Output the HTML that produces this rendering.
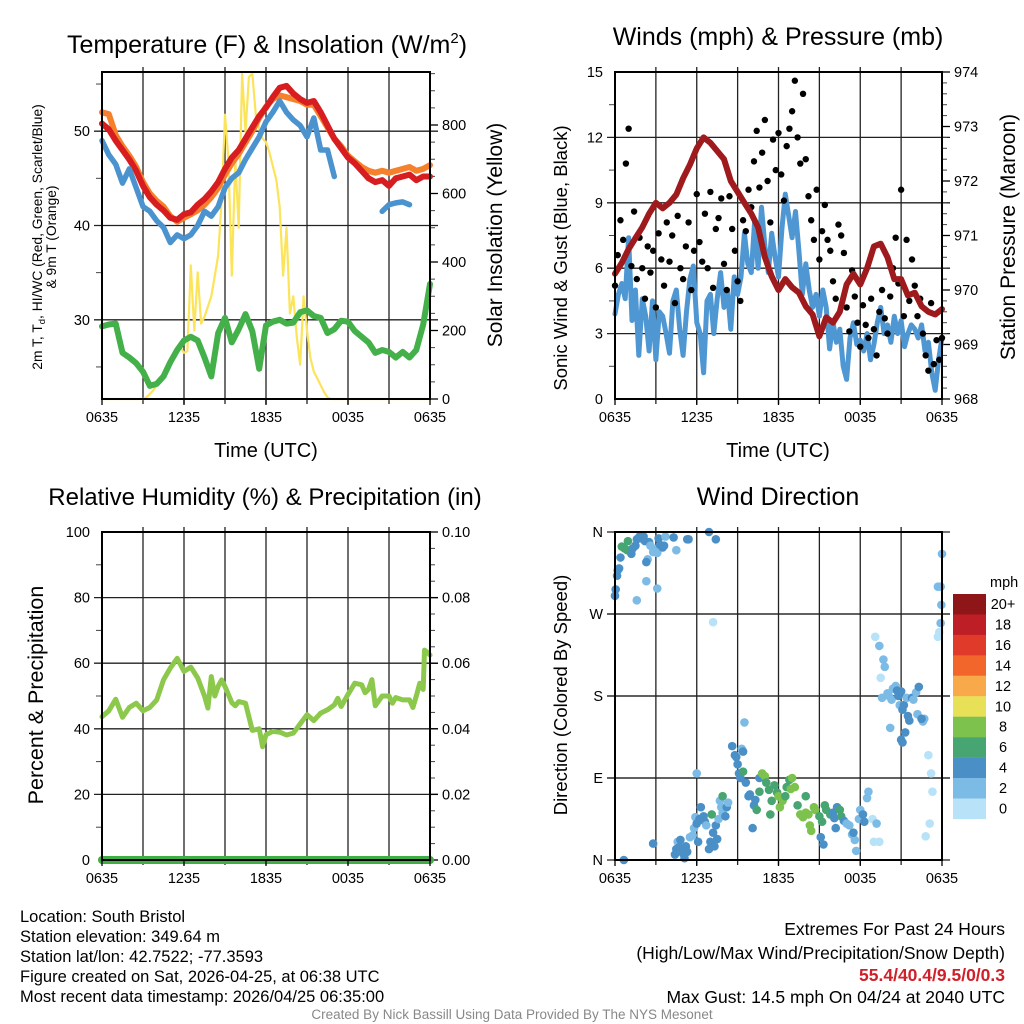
<!DOCTYPE html>
<html><head><meta charset="utf-8">
<style>
html,body{margin:0;padding:0;background:#fff;}
svg{display:block;font-family:"Liberation Sans",Arial,sans-serif;}
</style></head>
<body>
<svg id="chart" width="1024" height="1024" viewBox="0 0 1024 1024" xmlns="http://www.w3.org/2000/svg">
<rect x="0" y="0" width="1024" height="1024" fill="#fff"/>
<text x="267" y="53" font-size="25" text-anchor="middle">Temperature (F) &amp; Insolation (W/m<tspan font-size="15" dy="-10">2</tspan><tspan dy="10">)</tspan></text>
<text x="778" y="45" font-size="25" text-anchor="middle">Winds (mph) &amp; Pressure (mb)</text>
<text x="265" y="505" font-size="24" text-anchor="middle">Relative Humidity (%) &amp; Precipitation (in)</text>
<text x="778" y="505" font-size="25" text-anchor="middle">Wind Direction</text>

<text font-size="13.8" text-anchor="middle" transform="translate(42,237) rotate(-90)">2m T, T<tspan font-size="9.5" dy="3">d</tspan><tspan dy="-3">, HI/WC (Red, Green, Scarlet/Blue)</tspan></text>
<text font-size="13.8" text-anchor="middle" transform="translate(56,237) rotate(-90)">&amp; 9m T (Orange)</text>
<text font-size="21" text-anchor="middle" transform="translate(502,235) rotate(-90)">Solar Insolation (Yellow)</text>
<text font-size="18.5" text-anchor="middle" transform="translate(567,258) rotate(-90)">Sonic Wind &amp; Gust (Blue, Black)</text>
<text font-size="21" text-anchor="middle" transform="translate(1015,237) rotate(-90)">Station Pressure (Maroon)</text>
<text font-size="21.5" text-anchor="middle" transform="translate(43,695) rotate(-90)">Percent &amp; Precipitation</text>
<text font-size="18.5" text-anchor="middle" transform="translate(567,695) rotate(-90)">Direction (Colored By Speed)</text>
<text x="266" y="457" font-size="20" text-anchor="middle">Time (UTC)</text>
<text x="778" y="457" font-size="20" text-anchor="middle">Time (UTC)</text>

<g font-size="16.5">
<text x="20" y="922">Location: South Bristol</text>
<text x="20" y="942">Station elevation: 349.64 m</text>
<text x="20" y="962">Station lat/lon: 42.7522; -77.3593</text>
<text x="20" y="982">Figure created on Sat, 2026-04-25, at 06:38 UTC</text>
<text x="20" y="1002">Most recent data timestamp: 2026/04/25 06:35:00</text>
</g>
<g font-size="17.5" text-anchor="end">
<text x="1005" y="935">Extremes For Past 24 Hours</text>
<text x="1005" y="959">(High/Low/Max Wind/Precipitation/Snow Depth)</text>
<text x="1005" y="981" fill="#d0202a" font-weight="bold">55.4/40.4/9.5/0/0.3</text>
<text x="1005" y="1003">Max Gust: 14.5 mph On 04/24 at 2040 UTC</text>
</g>
<text x="512" y="1019" font-size="13.5" fill="#888" text-anchor="middle">Created By Nick Bassill Using Data Provided By The NYS Mesonet</text>
<g id="layer"></g>
</svg>
<script>
const timeTicks = ["0635","1235","1835","0035","0635"];
// temperature panel (0.5 h step)
const redTemp = [50.8,50.2,49,48,47,45.8,44.2,43,42.2,41.6,40.8,40.6,41.2,41.4,42.2,42.8,43.6,44.6,46,47.2,48,49.2,50.4,51.6,52.5,53.6,54.6,54.8,54,53.4,53,53.2,52,50.6,49.2,48.2,47.2,46.6,45.8,45,44.6,44.8,44.2,45,45.2,45.4,44.8,45.2,45.2];
const orangeTemp = [52,51.8,49.6,48.4,47.4,46.2,44.6,43.4,42.6,42,41,40.4,40.8,41.2,41.6,42.2,43,44,45.4,46.6,47.6,48.8,50,51.4,52.6,53.4,53.8,53.6,53.4,53.2,52.8,52.8,51.6,50.4,49.2,48.4,47.4,46.8,46.2,45.8,45.6,45.8,45.6,45.8,46,46.2,45.8,46,46.4];
const blueTemp = [49,47.5,46.5,44.5,46,44,42,41.5,40.5,39.8,38.2,39,38.6,39,40,41.5,41,42,44,45,45.6,47,48.2,49.4,51,52,53.2,52,51.2,50.6,49.4,51.4,48,48,45.2,null,43,null,null,42.2,null,41.5,42.2,42.4,42.5,42.2,null,null,null];
const dewTemp = [29.3,29.5,29.6,26.5,26,25.4,24.5,23,23.2,24,25.5,26.8,27.8,28.2,27.8,26,24,28.6,30.2,27.6,29,30.6,28.8,24.8,29.4,29.8,30,29.6,29.7,30.8,31,30.4,30.2,28.6,29,29.9,29.8,28.8,28.2,27.6,26.5,26.8,26.6,26,26.6,26,26.8,29.5,33.8];
// solar (0.25 h step)
const solar = [0,0,0,0,0,0,0,0,0,0,0,0,0,5,15,25,40,55,70,90,110,120,140,150,135,140,390,200,370,220,240,270,300,360,420,580,830,700,360,700,500,950,780,940,950,830,790,760,750,720,680,640,560,360,500,250,300,180,100,300,200,120,80,60,40,20,5,0,0,0,0,0,0,0,0,0,0,0,0,0,0,0,0,0,0,0,0,0,0,0,0,0,0,0,0,0,0];
// winds panel
const windSpeed = [3.9,4.8,5.3,4.6,7.4,3.6,5.0,2.0,4.6,3.8,2.2,4.5,1.8,4.0,3.8,3.0,2.1,4.5,5.0,3.2,2.0,4.0,5.5,6.1,3.5,3.0,1.2,4.5,4.8,3.0,4.6,5.8,4.2,5.0,3.2,5.6,4.8,5.6,7.6,6.2,5.8,8.2,6.0,8.8,7.0,5.8,7.6,6.5,5.6,7.8,9.4,8.4,7.4,8.6,6.8,4.8,6.2,5.0,4.2,4.8,3.8,5.0,4.2,2.3,3.5,2.6,3.2,1.5,0.9,2.8,3.5,2.5,2.7,2.2,3.0,1.8,2.5,3.5,4.2,3.0,3.4,2.6,3.8,3.0,3.6,2.4,3.0,3.4,3.2,2.8,3.4,2.2,2.6,1.2,0.4,1.8,2.8];
const gusts = [5.2,6.6,8.2,7.3,10.8,12.4,6.1,8.6,5.5,7.4, 6.0,4.6,7.0,5.8,6.8,4.2,7.6,6.4,5.2,8.1, 6.3,7.5,4.4,8.4,6.0,5.5,7.0,8.1,5.0,6.8, 9.4,7.2,6.3,8.5,6.0,9.5,5.1,7.8,8.3,9.2, 6.2,5.0,9.3,7.8,6.8,5.4,4.5,8.2,7.7,9.6, 8.8,10.9,12.3,9.7,11.3,12.8,10.0,8.1,11.9,10.5, 12.2,10.3,9.1,11.6,12.4,13.2,14.6,12.0,10.8,14.0, 11.0,9.3,8.2,7.3,9.6,6.4,7.7,8.9,7.3,6.8, 5.4,4.6,8.0,7.5,6.7,4.2,3.1,5.9,4.7,3.5, 2.4,4.3,3.4,2.8,4.6,3.2,2.0,4.0,5.0,3.7, 3.0,4.7,6.0,7.4,5.3,9.6,3.8,7.3,4.5,6.4, 5.2,3.8,4.6,3.0,2.0,1.3,4.4,1.6,2.7,1.8,2.8];
const pressure = [970.3,970.5,970.75,970.95,971.15,971.4,971.6,971.5,971.6,971.75,972.05,972.3,972.6,972.8,972.7,972.55,972.4,972.0,971.8,971.6,971.4,971.15,970.6,970.25,970.0,970.2,970.05,969.95,969.7,969.55,969.15,969.5,969.4,969.6,970.1,970.3,970.1,970.4,970.8,970.85,970.6,970.2,970.2,969.9,969.95,969.7,969.6,969.55,969.65];
// humidity panel
const rhHours = [0,0.5,1,1.5,2,2.5,3,3.5,4,4.5,5,5.5,6,6.5,7,7.5,7.75,8,8.25,8.5,8.75,9,9.5,9.75,10,10.5,11,11.5,11.75,12,12.5,13,13.5,14,14.5,15,15.5,16,16.5,17,17.25,17.5,18,18.5,19,19.25,19.5,19.75,20,20.5,21,21.25,21.5,22,22.5,22.75,23,23.25,23.5,23.6,23.75,24];
const rhValues = [43.7,45.5,49,43.5,46.5,47.8,45.5,46.5,48.8,54.9,58.5,61.5,57.5,58.8,55.5,50,46.3,55.9,50,53,54.9,52.9,48,47,48.3,47.8,39.5,40,34.5,38.2,39.2,39,38.1,38.7,41.5,44.3,42.5,44.8,45.8,47.3,49.3,46.8,50.5,53.9,53.4,51,52,55,47,50,50,47.8,49.5,48.8,48.8,46.5,50,53.9,52,64,63.5,62.5];
const precip = [0,0,0,0,0,0,0,0,0,0,0,0,0];
// wind direction panel
const dirHours = [0.0,0.05,0.15,0.2,0.3,0.4,0.5,0.7,0.9,0.95,1.2,1.3,1.5,1.6,1.8,1.9,2.1,2.2,2.4,2.3,2.5,2.6,3.0,3.1,3.2,3.3,3.5,3.6,2.3,1.6,2.8,3.1,3.7,4.3,4.5,5.3,5.4,6.9,7.4,7.2,0.65,2.8,
4.4,4.5,4.6,4.7,4.8,5.0,5.1,5.2,5.3,5.5,5.7,5.8,5.9,6.0,6.1,6.2,6.3,6.5,6.6,6.7,6.9,7.0,7.3,7.4,7.6,7.7,7.8,7.9,8.1,8.2,7.1,7.9,8.3,6.0,7.5,7.2,
8.6,8.8,8.9,9.0,9.1,9.2,9.3,9.4,9.5,9.4,9.6,9.8,9.9,10.2,10.3,10.1,10.4,10.6,
10.6,10.8,11.0,11.1,11.3,11.5,11.4,11.7,11.9,12.0,12.1,12.3,12.5,12.6,12.8,12.9,13.0,13.2,13.4,13.6,13.8,14.0,14.2,14.3,14.4,14.0,14.6,14.7,
15.0,15.2,15.4,15.5,15.8,16.0,16.1,16.2,16.3,16.5,16.6,16.8,17.0,17.2,17.4,17.6,17.7,17.9,18.0,18.2,18.3,18.5,18.6,18.9,19.0,19.2,19.4,15.1,15.3,17.5,
19.1,19.4,19.7,19.8,19.5,19.6,20.0,20.1,20.3,20.4,20.6,20.7,20.8,20.9,21.0,21.1,21.2,21.4,21.5,21.6,21.3,21.1,21.0,21.8,21.9,22.1,22.3,22.2,22.6,22.7,22.5,20.2,
23.0,23.2,23.3,23.1,22.8,23.8,23.9,23.7,23.7,23.9,24.0,23.95];
const dirDegrees = [290,297,312,318,320,332,344,342,340,350,336,342,345,352,355,353,355,350,330,327,349,345,341,337,353,346,343,345,306,285,338,298,355,354,340,352,352,360,352,261,0,18,
6,12,20,14,22,7,2,15,9,25,27,35,47,40,20,45,58,48,42,38,12,20,15,38,45,65,58,52,48,58,50,70,63,95,23,30,
125,115,113,105,95,90,122,119,151,97,85,70,72,60,66,35,55,90,
75,95,92,85,77,65,50,82,74,70,58,65,70,80,88,78,90,80,60,50,47,52,50,38,32,70,58,55,
48,42,60,55,50,52,46,35,58,55,48,43,40,38,28,22,10,45,55,50,42,68,75,45,20,40,20,25,17,30,
245,235,220,212,200,178,183,180,176,188,191,186,180,170,185,165,170,178,158,153,140,129,132,178,176,184,190,160,152,155,155,145,
115,95,75,40,26,250,260,245,300,300,336,280];
const dirSpeeds = [4,4,4,4,4,4,6,6,6,7,4,4,4,4,4,4,4,4,3,4,4,3,3,3,4,4,4,4,3,3,3,3,2,4,2,4,4,4,4,1,4,4,
4,4,3,4,4,4,4,4,4,3,2,3,3,4,4,4,4,4,4,3,4,4,4,4,3,3,2,3,4,4,6,6,2,2,4,4,
4,4,4,4,4,4,3,4,2,6,4,4,4,4,4,4,6,4,
7,8,8,6,6,6,6,6,6,8,8,8,6,6,6,8,8,8,6,8,8,8,8,8,8,6,8,8,
6,6,6,6,6,4,4,4,4,6,6,4,2,2,2,2,2,2,2,4,4,2,2,1,1,2,1,4,4,4,
1,2,2,2,1,2,2,2,2,2,2,4,4,2,4,4,4,2,4,4,4,4,4,4,2,2,4,2,2,2,4,2,
1,1,1,1,1,1,2,1,2,2,2,2];
const speedLabels = ["20+","18","16","14","12","10","8","6","4","2","0"];
const speedColors = ["#8e1518","#be1e26","#e03a2a","#f2662c","#f8a94a","#e8e056","#7cc24c","#47a571","#4a8fc6","#7cbbe6","#b8e2f8"];

const NS = "http://www.w3.org/2000/svg";
const layer = document.getElementById("layer");
function mk(tag, attrs, parent){ const e=document.createElementNS(NS,tag); for(const k in attrs) e.setAttribute(k,attrs[k]); (parent||layer).appendChild(e); return e; }

function panel(name, x0, x1, y0, y1){
  const g = mk("g",{});
  
  
  return {g, x0, x1, y0, y1, xs: h => x0 + (x1-x0)*h/24};
}
function grid(p, yTicks, yScale){
  for(let h=3; h<24; h+=3){
    const l = mk("line",{x1:p.xs(h),x2:p.xs(h),y1:p.y0-5,y2:p.y1+5,stroke:"#222","stroke-width":1.3},p.g);
    
    
  }
  yTicks.forEach(v=>{
    const y=yScale(v);
    const l = mk("line",{x1:p.x0-8,x2:p.x1+8,y1:y,y2:y,stroke:"#222","stroke-width":1.3},p.g);
    
    
  });
}
function frame(p){
  const r = mk("rect",{x:p.x0,y:p.y0,width:p.x1-p.x0,height:p.y1-p.y0,fill:"none",stroke:"#000","stroke-width":2},p.g);
  
  
  timeTicks.forEach((t,i)=>{
    const x=p.xs(i*6);
    mk("line",{x1:x,x2:x,y1:p.y1,y2:p.y1+6,stroke:"#000","stroke-width":1.3},p.g);
    const tx = mk("text",{x:x,y:p.y1+23,"font-size":14.5,"text-anchor":"middle"},p.g);
    
    
    tx.textContent=t;
  });
}
function yLabels(p, ticks, scale, side, fmt, minor){
  ticks.forEach(v=>{
    const y=scale(v);
    const x = side==="left" ? p.x0-12 : p.x1+12;
    if(side==="right") mk("line",{x1:p.x1,x2:p.x1+8,y1:y,y2:y,stroke:"#000","stroke-width":1.3},p.g);
    const t = mk("text",{x:x,y:y+5,"font-size":14.5,"text-anchor":side==="left"?"end":"start"},p.g);
    
    
    t.textContent = fmt(v);
  });
  (minor||[]).forEach(v=>{
    const y=scale(v);
    if(side==="left") mk("line",{x1:p.x0-6,x2:p.x0,y1:y,y2:y,stroke:"#444","stroke-width":1},p.g);
    else mk("line",{x1:p.x1,x2:p.x1+5,y1:y,y2:y,stroke:"#444","stroke-width":1},p.g);
  });
}
function line(p, vals, step, yScale, color, width, name){
  let d="", pen=false;
  vals.forEach((v,i)=>{
    if(v===null||v===undefined){pen=false;return;}
    d += (pen?"L":"M")+p.xs(i*step).toFixed(1)+","+yScale(v).toFixed(1);
    pen=true;
  });
  const e = mk("path",{d:d,fill:"none",stroke:color,"stroke-width":width,"stroke-linejoin":"round","stroke-linecap":"round"},p.g);
  
  
  return e;
}
function lineXY(p, hours, vals, yScale, color, width, name){
  let d="";
  vals.forEach((v,i)=>{ d += (i?"L":"M")+p.xs(hours[i]).toFixed(1)+","+yScale(v).toFixed(1); });
  const e = mk("path",{d:d,fill:"none",stroke:color,"stroke-width":width,"stroke-linejoin":"round","stroke-linecap":"round"},p.g);
  
  
}

// ---- Panel 1: temperature
const p1 = panel("temperature-panel",102,430,72,399);
const yT = v => 399 - (v-21.6)*9.43;
const yS = v => 399 - v*0.3425;
grid(p1,[30,40,50],yT);
yLabels(p1,[30,40,50],yT,"left",v=>v,[25,35,45,55]);
yLabels(p1,[0,200,400,600,800],yS,"right",v=>v,[50,100,150,250,300,350,450,500,550,650,700,750,850,900,950]);
line(p1,solar,0.25,yS,"#fbe45a",2.2,"solar-insolation-line");
line(p1,dewTemp,0.5,yT,"#43b04a",6,"dewpoint-line");
line(p1,orangeTemp,0.5,yT,"#f5812c",6,"9m-temperature-line");
line(p1,redTemp,0.5,yT,"#d71d20",6,"2m-temperature-line");
line(p1,blueTemp,0.5,yT,"#4b93cf",5.5,"wind-chill-line");
frame(p1);

// ---- Panel 2: winds
const p2 = panel("winds-panel",615,942,72,399);
const yW = v => 399 - v*21.8;
const yP = v => 399 - (v-968)*54.5;
grid(p2,[3,6,9,12],yW);
yLabels(p2,[0,3,6,9,12,15],yW,"left",v=>v,[1.5,4.5,7.5,10.5,13.5]);
yLabels(p2,[968,969,970,971,972,973,974],yP,"right",v=>v,[968.2,968.4,968.6,968.8,969.2,969.4,969.6,969.8,970.2,970.4,970.6,970.8,971.2,971.4,971.6,971.8,972.2,972.4,972.6,972.8,973.2,973.4,973.6,973.8]);
line(p2,windSpeed,0.25,yW,"#4f97d3",5,"sonic-wind-line");
gusts.forEach((v,i)=>{
  const c = mk("circle",{cx:p2.xs(i*0.2),cy:yW(v),r:3.2,fill:"#000"},p2.g);
  
  
});
line(p2,pressure,0.5,yP,"#9e1a1c",6,"pressure-line");
frame(p2);

// ---- Panel 3: humidity
const p3 = panel("humidity-panel",102,430,532,860);
const yR = v => 860 - v*3.28;
const yPr = v => 860 - v*3280;
grid(p3,[20,40,60,80],yR);
yLabels(p3,[0,20,40,60,80,100],yR,"left",v=>v,[10,30,50,70,90]);
yLabels(p3,[0,0.02,0.04,0.06,0.08,0.10],yPr,"right",v=>v.toFixed(2),[0.005,0.01,0.015,0.025,0.03,0.035,0.045,0.05,0.055,0.065,0.07,0.075,0.085,0.09,0.095]);
lineXY(p3,rhHours,rhValues,yR,"#8cc84b",5,"relative-humidity-line");
line(p3,precip,2,yPr,"#3fae45",8,"precipitation-line");
frame(p3);

// ---- Panel 4: wind direction
const p4 = panel("wind-direction-panel",615,942,532,860);
const yD = d => 860 - d*0.9111;
grid(p4,[90,180,270],yD);
["N","E","S","W","N"].forEach((lab,i)=>{
  const t = mk("text",{x:p4.x0-12,y:yD(i*90)+5,"font-size":14.5,"text-anchor":"end"},p4.g);
  
  
  t.textContent = lab;
  mk("line",{x1:p4.x0-8,x2:p4.x1+8,y1:yD(i*90),y2:yD(i*90),stroke:"#222","stroke-width":1.3},p4.g);
});
dirHours.forEach((h,i)=>{
  const b = Math.min(10, Math.floor(dirSpeeds[i]/2));
  const c = mk("circle",{cx:p4.xs(h),cy:yD(dirDegrees[i]),r:4.3,fill:speedColors[10-b]},p4.g);
  
  
});
frame(p4);

// colorbar
const cb = mk("g",{});


const cbt = mk("text",{x:990,y:587,"font-size":14.5},cb);
cbt.textContent="mph";
speedLabels.forEach((lab,i)=>{
  const y = 594 + i*20.45;
  const r = mk("rect",{x:953,y:y,width:33,height:20.6,fill:speedColors[i]},cb);
  
  
  const t = mk("text",{x:1003,y:y+15,"font-size":14.5,"text-anchor":"middle"},cb);
  
  
  t.textContent = lab;
});
</script>
</body></html>
